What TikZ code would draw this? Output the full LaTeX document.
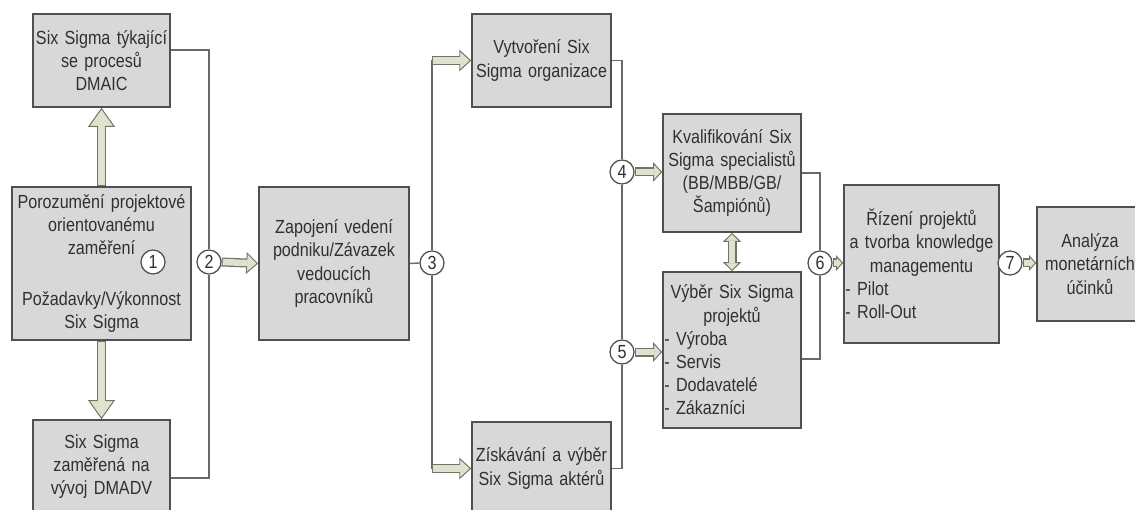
\documentclass[tikz,border=0pt]{standalone}
\usepackage{fontspec}
\setmainfont[FakeStretch=0.85]{Liberation Sans}
\usepackage{tikz}
\usepackage{xcolor}
\usetikzlibrary{arrows.meta, calc}
\definecolor{boxgray}{RGB}{216, 216, 216}
\definecolor{boxedge}{RGB}{80, 80, 80}
\definecolor{linegray}{RGB}{105, 105, 105}
\definecolor{arrfill}{RGB}{222, 226, 206}
\definecolor{arredge}{RGB}{115, 115, 104}
\definecolor{txtgray}{RGB}{48, 48, 48}
\newcommand{\li}[1]{\makebox[\hsize][l]{- #1}}

\begin{document}
\begin{tikzpicture}[
    x=0.025cm, y=-0.025cm,
    font=\fontsize{13.5}{16.5}\selectfont,
    box/.style={draw=boxedge, fill=boxgray, line width=1.1pt, text=txtgray, align=center, inner sep=1pt},
    num/.style={circle, draw=boxedge, fill=white, line width=0.9pt, minimum size=0.6cm, inner sep=0pt, text=txtgray},
    link/.style={draw=linegray, line width=1pt},
    fat/.style 2 args={draw=arredge, line width=6.4pt,
        -{Triangle[length=#1, width=#2, line width=0.7pt, fill=arrfill, color=arredge]}},
    fatboth/.style 2 args={draw=arredge, line width=6.4pt,
        {Triangle[length=#1, width=#2, line width=0.7pt, fill=arrfill, color=arredge]}-{Triangle[length=#1, width=#2, line width=0.7pt, fill=arrfill, color=arredge]}},
    fatin/.style={draw=arrfill, line width=4.6pt, shorten <=0.8pt, shorten >=#1}
]

    \useasboundingbox (0, 0) rectangle (1135, 510);

    % ==========================================
    % BOXES
    % ==========================================
    % Left column
    \node[box, minimum width=3.425cm, minimum height=2.325cm, text width=3.3cm] (dmaic) at (101.5, 60.5)
        {Six Sigma týkající\\se procesů\\DMAIC};
    \node[box, minimum width=4.475cm, minimum height=3.825cm, text width=4.3cm] (poroz) at (101.5, 263.5)
        {Porozumění projektové\\orientovanému\\zaměření\\[20pt]Požadavky/Výkonnost\\Six Sigma};
    \node[box, minimum width=3.425cm, minimum height=2.325cm, text width=3.3cm] (dmadv) at (101.5, 466.5)
        {Six Sigma\\zaměřená na\\vývoj DMADV};

    % Management
    \node[box, minimum width=3.75cm, minimum height=3.825cm, text width=3.6cm] (zap) at (334, 263.5)
        {Zapojení vedení\\podniku/Závazek\\vedoucích\\pracovníků};

    % Organisation and actors
    \node[box, minimum width=3.475cm, minimum height=2.325cm, text width=3.35cm] (vytv) at (541.5, 60.5)
        {Vytvoření Six\\Sigma organizace};
    \node[box, minimum width=3.475cm, minimum height=2.325cm, text width=3.35cm] (ziska) at (541.5, 468.5)
        {Získávání a výběr\\Six Sigma aktérů};

    % Specialists and projects
    \node[box, minimum width=3.45cm, minimum height=2.95cm, text width=3.38cm] (kval) at (732, 173)
        {Kvalifikování Six\\Sigma specialistů\\(BB/MBB/GB/\\Šampiónů)};
    \node[box, minimum width=3.45cm, minimum height=3.9cm, text width=3.38cm] (vyber) at (732, 350)
        {Výběr Six Sigma\\projektů\\\li{Výroba}\\\li{Servis}\\\li{Dodavatelé}\\\li{Zákazníci}};

    % Right column
    \node[box, minimum width=3.875cm, minimum height=3.95cm, text width=3.8cm] (rizeni) at (921.5, 264)
        {Řízení projektů\\a tvorba knowledge\\managementu\\\li{Pilot}\\\li{Roll-Out}};
    \node[box, minimum width=2.65cm, minimum height=2.85cm, text width=2.55cm] (analyza) at (1090, 264)
        {Analýza\\monetárních\\účinků};

    % ==========================================
    % NUMBERED CIRCLES
    % ==========================================
    \node[num] (c1) at (153, 262) {1};
    \node[num] (c2) at (209, 262) {2};
    \node[num] (c3) at (432, 263) {3};
    \node[num] (c4) at (622, 172) {4};
    \node[num] (c5) at (622, 352) {5};
    \node[num] (c6) at (820, 263) {6};

    \coordinate (t3) at (c3 |- vytv.west);
    \coordinate (b3) at (c3 |- ziska.west);

    % ==========================================
    % THIN CONNECTORS
    % ==========================================
    \draw[link] ([yshift=0.26cm]dmaic.east) -| (c2.north);
    \draw[link] ([yshift=-0.29cm]dmadv.east) -| (c2.south);

    \draw[link] (zap.east) -- (c3.west);
    \draw[link] (c3.north) -- (t3);
    \draw[link] (c3.south) -- (b3);

    \draw[link] (vytv.east) -| (c4.north);
    \draw[link] (c4.south) -- (c5.north);
    \draw[link] (ziska.east) -| (c5.south);

    \draw[link] (kval.east) -| (c6.north);
    \draw[link] ([yshift=-0.225cm]vyber.east) -| (c6.south);

    % ==========================================
    % BLOCK ARROWS
    % ==========================================
    \draw[fat={13.5pt}{19pt}] (poroz.north) -- (dmaic.south);
    \draw[fatin=12.5pt] (poroz.north) -- (dmaic.south);
    \draw[fat={13.5pt}{19pt}] (poroz.south) -- (dmadv.north);
    \draw[fatin=12.5pt] (poroz.south) -- (dmadv.north);

    \draw[fat={8.5pt}{15.5pt}] (c2.east) -- (zap.west);
    \draw[fatin=7.5pt] (c2.east) -- (zap.west);

    \draw[fat={8.5pt}{15.5pt}] (t3) -- (vytv.west);
    \draw[fatin=7.5pt] (t3) -- (vytv.west);
    \draw[fat={8.5pt}{15.5pt}] (b3) -- (ziska.west);
    \draw[fatin=7.5pt] (b3) -- (ziska.west);

    \draw[fat={6.5pt}{14pt}] (c4.east) -- (c4 -| kval.west);
    \draw[fatin=5.5pt] (c4.east) -- (c4 -| kval.west);
    \draw[fat={6.5pt}{14pt}] (c5.east) -- (c5 -| vyber.west);
    \draw[fatin=5.5pt] (c5.east) -- (c5 -| vyber.west);

    \draw[fatboth={6.5pt}{13pt}] (kval.south) -- (vyber.north);
    \draw[fatin=5.5pt, shorten <=5.5pt] (kval.south) -- (vyber.north);

    \node[num] (c7) at (1010, 263) {7};

    \draw[fat={5pt}{11pt}] (c6.east) -- (c6 -| rizeni.west);
    \draw[fatin=4pt] (c6.east) -- (c6 -| rizeni.west);
    \draw[fat={5pt}{11pt}] (c7.east) -- (c7 -| analyza.west);
    \draw[fatin=4pt] (c7.east) -- (c7 -| analyza.west);

\end{tikzpicture}
\end{document}
